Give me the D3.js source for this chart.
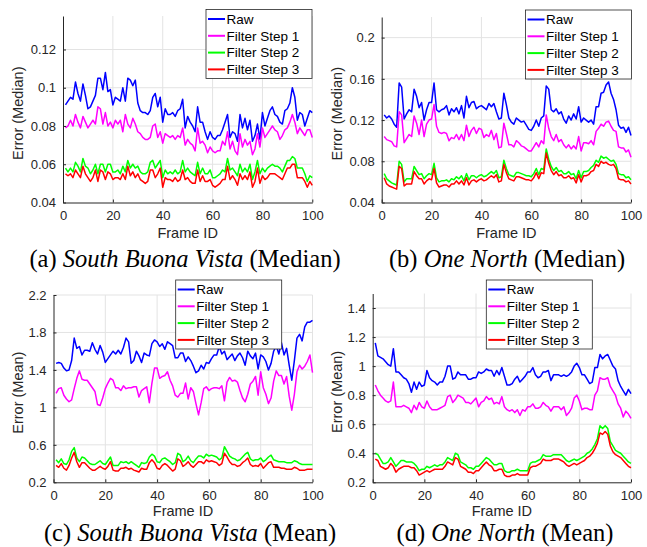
<html>
<head>
<title>Filter steps</title>
<script src="https://d3js.org/d3.v7.min.js"></script>
<style>
body { margin: 0; background: white; }
.tick text { font-family: "Liberation Sans", Arial, sans-serif; font-size: 13px; fill: #262626; }
.lbl { font-family: "Liberation Sans", Arial, sans-serif; font-size: 14.5px; fill: #262626; }
.leg { font-family: "Liberation Sans", Arial, sans-serif; font-size: 13.5px; fill: #000; }
.cap { font-family: "Liberation Serif", "Times New Roman", serif; font-size: 24.5px; fill: #000; }
</style>
</head>
<body>
<svg id="fig" width="647" height="547"></svg>
<script>
const frameIds = d3.range(1, 101);
const seriesNames = ["Raw", "Filter Step 1", "Filter Step 2", "Filter Step 3"];
const seriesColors = ["#0000ff", "#ff00ff", "#00ff00", "#ff0000"];
const xTicks = [0, 20, 40, 60, 80, 100];

// (a) South Buona Vista, median
const sbvMedRaw = [
0.091,0.093,0.095,0.094,0.103,0.097,0.093,0.102,0.096,0.089,
0.090,0.093,0.096,0.105,0.105,0.099,0.108,0.098,0.099,0.091,
0.095,0.094,0.093,0.100,0.093,0.105,0.104,0.101,0.104,0.092,
0.088,0.087,0.087,0.086,0.088,0.095,0.097,0.090,0.095,0.082,
0.089,0.086,0.086,0.087,0.085,0.088,0.089,0.094,0.079,0.085,
0.082,0.080,0.077,0.090,0.082,0.082,0.077,0.073,0.077,0.074,
0.073,0.075,0.075,0.078,0.082,0.086,0.074,0.077,0.076,0.072,
0.086,0.079,0.084,0.078,0.083,0.072,0.075,0.081,0.073,0.087,
0.080,0.084,0.088,0.090,0.086,0.085,0.082,0.081,0.088,0.089,
0.092,0.100,0.095,0.083,0.087,0.086,0.080,0.084,0.088,0.087];
const sbvMedF1 = [
0.079,0.080,0.083,0.080,0.086,0.082,0.079,0.085,0.082,0.079,
0.081,0.083,0.081,0.090,0.089,0.081,0.087,0.080,0.082,0.079,
0.083,0.081,0.083,0.077,0.086,0.081,0.079,0.084,0.081,0.077,
0.076,0.074,0.073,0.073,0.074,0.080,0.081,0.074,0.077,0.071,
0.076,0.075,0.074,0.075,0.073,0.075,0.074,0.079,0.070,0.073,
0.071,0.070,0.067,0.079,0.071,0.072,0.070,0.066,0.069,0.067,
0.066,0.067,0.067,0.072,0.070,0.077,0.068,0.072,0.067,0.065,
0.076,0.069,0.073,0.070,0.072,0.065,0.068,0.076,0.069,0.079,
0.074,0.076,0.078,0.080,0.078,0.077,0.073,0.075,0.078,0.079,
0.082,0.086,0.082,0.076,0.079,0.077,0.075,0.078,0.078,0.074];
const sbvMedF2 = [
0.058,0.056,0.058,0.056,0.061,0.059,0.056,0.063,0.059,0.058,
0.055,0.057,0.060,0.055,0.060,0.060,0.056,0.060,0.060,0.056,
0.056,0.057,0.055,0.059,0.056,0.062,0.058,0.060,0.058,0.059,
0.056,0.055,0.055,0.056,0.061,0.062,0.058,0.060,0.062,0.053,
0.057,0.055,0.056,0.055,0.057,0.055,0.056,0.062,0.056,0.058,
0.056,0.055,0.054,0.061,0.055,0.058,0.055,0.055,0.057,0.053,
0.053,0.054,0.055,0.057,0.056,0.063,0.057,0.058,0.056,0.054,
0.060,0.056,0.058,0.056,0.060,0.052,0.056,0.062,0.055,0.058,
0.056,0.058,0.059,0.060,0.059,0.059,0.058,0.056,0.059,0.062,
0.062,0.064,0.063,0.058,0.058,0.058,0.055,0.051,0.054,0.053];
const sbvMedF3 = [
0.055,0.054,0.055,0.053,0.057,0.055,0.053,0.059,0.055,0.053,
0.051,0.053,0.057,0.051,0.057,0.056,0.052,0.056,0.055,0.052,
0.053,0.053,0.052,0.055,0.052,0.059,0.054,0.056,0.053,0.055,
0.052,0.051,0.050,0.051,0.057,0.057,0.053,0.055,0.058,0.048,
0.053,0.052,0.052,0.051,0.053,0.051,0.052,0.057,0.052,0.053,
0.051,0.050,0.050,0.057,0.051,0.054,0.051,0.051,0.052,0.049,
0.048,0.049,0.050,0.052,0.052,0.059,0.052,0.054,0.052,0.049,
0.055,0.052,0.054,0.052,0.056,0.048,0.051,0.058,0.050,0.054,
0.052,0.053,0.055,0.055,0.055,0.054,0.053,0.052,0.055,0.058,
0.058,0.060,0.060,0.053,0.053,0.053,0.051,0.048,0.051,0.049];

// (b) One North, median
const onMedRaw = [
0.125,0.122,0.124,0.121,0.116,0.113,0.156,0.152,0.121,0.126,
0.130,0.128,0.150,0.143,0.132,0.137,0.120,0.130,0.137,0.137,
0.156,0.130,0.128,0.130,0.131,0.134,0.125,0.131,0.128,0.132,
0.126,0.134,0.122,0.143,0.132,0.137,0.138,0.131,0.133,0.134,
0.132,0.130,0.136,0.133,0.136,0.128,0.121,0.122,0.146,0.135,
0.122,0.118,0.116,0.122,0.120,0.118,0.119,0.115,0.111,0.110,
0.114,0.120,0.114,0.122,0.124,0.153,0.150,0.130,0.128,0.131,
0.126,0.128,0.121,0.117,0.124,0.120,0.126,0.121,0.133,0.118,
0.122,0.120,0.118,0.120,0.116,0.133,0.133,0.146,0.147,0.154,
0.157,0.146,0.140,0.130,0.115,0.112,0.113,0.108,0.113,0.105];
const onMedF1 = [
0.104,0.101,0.100,0.099,0.095,0.094,0.128,0.125,0.098,0.102,
0.106,0.104,0.124,0.117,0.106,0.120,0.104,0.116,0.120,0.121,
0.135,0.114,0.108,0.107,0.108,0.107,0.100,0.103,0.102,0.106,
0.101,0.106,0.100,0.115,0.104,0.110,0.113,0.107,0.112,0.111,
0.103,0.106,0.104,0.110,0.101,0.107,0.093,0.094,0.117,0.107,
0.096,0.096,0.094,0.100,0.098,0.095,0.094,0.092,0.090,0.090,
0.094,0.098,0.094,0.100,0.097,0.125,0.112,0.104,0.100,0.106,
0.099,0.101,0.096,0.093,0.096,0.092,0.095,0.092,0.104,0.090,
0.098,0.098,0.097,0.100,0.096,0.109,0.112,0.116,0.114,0.118,
0.119,0.114,0.110,0.109,0.094,0.093,0.093,0.089,0.091,0.084];
const onMedF2 = [
0.068,0.063,0.061,0.059,0.058,0.057,0.080,0.077,0.060,0.063,
0.063,0.063,0.075,0.071,0.067,0.068,0.063,0.066,0.068,0.067,
0.078,0.064,0.060,0.061,0.061,0.062,0.060,0.063,0.062,0.065,
0.063,0.066,0.061,0.068,0.062,0.066,0.066,0.064,0.066,0.067,
0.065,0.066,0.068,0.070,0.068,0.071,0.064,0.065,0.081,0.073,
0.067,0.066,0.065,0.069,0.069,0.068,0.067,0.066,0.066,0.065,
0.068,0.073,0.067,0.073,0.072,0.092,0.082,0.075,0.071,0.074,
0.070,0.071,0.068,0.068,0.070,0.067,0.068,0.063,0.071,0.064,
0.070,0.070,0.071,0.074,0.076,0.081,0.079,0.085,0.083,0.084,
0.082,0.080,0.081,0.077,0.068,0.067,0.067,0.064,0.065,0.062];
const onMedF3 = [
0.064,0.058,0.056,0.055,0.054,0.053,0.075,0.073,0.056,0.058,
0.058,0.058,0.070,0.066,0.063,0.063,0.058,0.061,0.063,0.062,
0.073,0.059,0.055,0.056,0.057,0.057,0.055,0.058,0.058,0.061,
0.058,0.061,0.057,0.064,0.057,0.061,0.062,0.060,0.062,0.063,
0.061,0.062,0.064,0.066,0.064,0.067,0.060,0.061,0.077,0.069,
0.063,0.062,0.061,0.065,0.065,0.064,0.063,0.062,0.062,0.061,
0.064,0.069,0.063,0.069,0.068,0.088,0.078,0.071,0.067,0.070,
0.066,0.067,0.064,0.064,0.066,0.063,0.064,0.059,0.067,0.060,
0.066,0.066,0.067,0.070,0.071,0.077,0.075,0.080,0.078,0.079,
0.077,0.076,0.077,0.073,0.063,0.062,0.062,0.060,0.061,0.058];

// (c) South Buona Vista, mean
const sbvMeanRaw = [
1.47,1.48,1.47,1.42,1.39,1.40,1.50,1.74,1.63,1.65,
1.56,1.61,1.61,1.60,1.69,1.62,1.57,1.66,1.59,1.48,
1.52,1.56,1.60,1.57,1.61,1.57,1.64,1.74,1.70,1.47,
1.50,1.60,1.55,1.48,1.58,1.56,1.55,1.68,1.72,1.70,
1.65,1.68,1.62,1.70,1.68,1.66,1.53,1.53,1.58,1.58,
1.49,1.54,1.50,1.44,1.37,1.39,1.45,1.41,1.48,1.47,
1.52,1.56,1.56,1.65,1.57,1.60,1.51,1.54,1.57,1.50,
1.55,1.58,1.53,1.45,1.60,1.55,1.52,1.58,1.41,1.56,
1.54,1.49,1.40,1.47,1.60,1.66,1.57,1.69,1.56,1.63,
1.45,1.29,1.50,1.74,1.78,1.71,1.86,1.91,1.91,1.93];
const sbvMeanF1 = [
1.15,1.20,1.21,1.13,1.09,1.06,1.08,1.20,1.31,1.39,
1.30,1.29,1.29,1.25,1.21,1.17,1.03,1.02,1.10,1.20,
1.26,1.31,1.29,1.21,1.21,1.18,1.23,1.20,1.21,1.21,
1.22,1.22,1.11,1.18,1.20,1.22,1.05,1.26,1.42,1.42,
1.31,1.33,1.34,1.38,1.29,1.23,1.13,1.11,1.15,1.15,
1.26,1.09,1.21,1.17,1.04,0.92,1.05,1.20,1.22,1.18,
1.20,1.21,1.21,1.20,1.23,1.07,1.27,1.32,1.28,1.29,
1.27,1.18,1.10,1.06,1.14,1.25,1.28,1.33,1.13,1.38,
1.21,1.14,1.04,1.10,1.28,1.39,1.34,1.34,1.25,1.33,
1.12,0.97,1.14,1.38,1.45,1.41,1.44,1.49,1.56,1.37];
const sbvMeanF2 = [
0.44,0.41,0.45,0.40,0.39,0.44,0.53,0.57,0.46,0.42,
0.47,0.46,0.43,0.40,0.39,0.39,0.41,0.43,0.40,0.39,
0.43,0.47,0.38,0.38,0.38,0.42,0.41,0.42,0.40,0.42,
0.40,0.38,0.36,0.41,0.40,0.41,0.47,0.50,0.48,0.42,
0.41,0.45,0.46,0.44,0.42,0.39,0.41,0.51,0.49,0.42,
0.44,0.48,0.43,0.41,0.45,0.48,0.48,0.46,0.50,0.48,
0.49,0.48,0.47,0.44,0.46,0.58,0.53,0.48,0.46,0.45,
0.43,0.44,0.47,0.50,0.52,0.45,0.43,0.44,0.44,0.46,
0.42,0.44,0.47,0.49,0.44,0.43,0.42,0.42,0.42,0.41,
0.41,0.41,0.43,0.42,0.40,0.39,0.39,0.39,0.39,0.39];
const sbvMeanF3 = [
0.38,0.36,0.40,0.35,0.33,0.38,0.46,0.52,0.42,0.36,
0.41,0.41,0.38,0.35,0.33,0.33,0.35,0.37,0.35,0.34,
0.37,0.42,0.33,0.32,0.32,0.35,0.35,0.36,0.34,0.35,
0.33,0.32,0.31,0.35,0.34,0.34,0.41,0.44,0.41,0.35,
0.34,0.38,0.40,0.38,0.35,0.32,0.34,0.45,0.43,0.37,
0.39,0.42,0.38,0.36,0.39,0.42,0.42,0.40,0.44,0.42,
0.43,0.42,0.41,0.38,0.40,0.51,0.47,0.42,0.39,0.39,
0.37,0.38,0.41,0.43,0.46,0.39,0.37,0.38,0.37,0.40,
0.35,0.38,0.41,0.42,0.36,0.36,0.36,0.35,0.35,0.34,
0.34,0.34,0.36,0.35,0.33,0.33,0.33,0.34,0.34,0.34];

// (d) One North, mean
const onMeanRaw = [
1.16,1.07,1.06,1.05,1.03,1.01,1.00,1.12,0.96,0.96,
0.94,0.92,0.91,0.88,0.82,0.89,0.84,0.89,0.86,0.87,
0.97,0.92,0.90,0.89,0.87,0.89,0.89,0.93,1.00,1.00,
0.91,0.92,0.96,0.94,0.94,0.94,0.91,0.91,0.92,0.92,
0.96,0.95,0.96,0.98,0.97,0.97,0.93,0.97,0.94,0.99,
0.93,0.87,0.87,0.88,0.91,0.93,0.89,0.91,0.93,0.96,
0.96,0.99,0.94,0.92,0.93,0.96,0.96,0.97,0.90,0.94,
0.94,0.94,0.93,0.94,0.93,0.94,0.96,1.00,1.02,0.99,
0.94,0.94,0.91,0.88,0.89,0.99,0.99,1.08,1.05,1.07,
1.08,1.04,1.00,0.98,0.90,0.86,0.83,0.80,0.84,0.81];
const onMeanF1 = [
0.87,0.83,0.80,0.78,0.76,0.75,0.76,0.89,0.72,0.72,
0.72,0.73,0.72,0.71,0.68,0.73,0.70,0.75,0.72,0.71,
0.76,0.72,0.70,0.70,0.70,0.71,0.72,0.73,0.79,0.80,
0.75,0.77,0.80,0.79,0.78,0.75,0.75,0.74,0.76,0.78,
0.72,0.75,0.76,0.79,0.77,0.78,0.74,0.75,0.74,0.79,
0.72,0.70,0.69,0.70,0.68,0.70,0.66,0.70,0.69,0.72,
0.72,0.74,0.71,0.71,0.72,0.75,0.73,0.72,0.69,0.72,
0.72,0.72,0.70,0.72,0.66,0.68,0.71,0.78,0.80,0.76,
0.70,0.71,0.71,0.70,0.70,0.80,0.83,0.92,0.91,0.91,
0.92,0.86,0.83,0.80,0.74,0.71,0.65,0.69,0.67,0.64];
const onMeanF2 = [
0.40,0.39,0.36,0.33,0.33,0.34,0.37,0.34,0.31,0.33,
0.35,0.35,0.34,0.34,0.34,0.33,0.31,0.28,0.29,0.29,
0.31,0.30,0.31,0.32,0.31,0.32,0.32,0.34,0.37,0.36,
0.35,0.40,0.39,0.34,0.33,0.32,0.30,0.30,0.29,0.31,
0.31,0.33,0.35,0.37,0.36,0.34,0.32,0.32,0.33,0.33,
0.28,0.27,0.27,0.28,0.28,0.29,0.28,0.28,0.28,0.28,
0.33,0.34,0.34,0.35,0.36,0.39,0.38,0.38,0.38,0.39,
0.39,0.39,0.39,0.37,0.35,0.34,0.35,0.36,0.35,0.36,
0.37,0.38,0.40,0.41,0.43,0.46,0.50,0.59,0.57,0.59,
0.57,0.48,0.45,0.42,0.41,0.40,0.38,0.36,0.34,0.33];
const onMeanF3 = [
0.36,0.35,0.31,0.30,0.29,0.30,0.33,0.31,0.27,0.29,
0.30,0.31,0.31,0.31,0.30,0.30,0.28,0.25,0.26,0.27,
0.28,0.27,0.28,0.29,0.29,0.29,0.29,0.31,0.34,0.33,
0.32,0.37,0.36,0.31,0.30,0.29,0.27,0.27,0.26,0.28,
0.28,0.30,0.32,0.34,0.32,0.31,0.28,0.28,0.29,0.29,
0.25,0.24,0.24,0.25,0.25,0.26,0.25,0.25,0.25,0.25,
0.30,0.31,0.31,0.32,0.33,0.36,0.35,0.35,0.35,0.36,
0.36,0.36,0.35,0.34,0.32,0.31,0.32,0.33,0.32,0.33,
0.34,0.35,0.37,0.38,0.40,0.43,0.47,0.54,0.53,0.55,
0.53,0.45,0.41,0.39,0.38,0.37,0.35,0.33,0.31,0.30];

const sbvMedTicks = [0.04, 0.06, 0.08, 0.1, 0.12];
const onMedTicks = [0.04, 0.08, 0.12, 0.16, 0.2];
const sbvMeanTicks = [0.2, 0.6, 1, 1.4, 1.8, 2.2];
const onMeanTicks = [0.2, 0.4, 0.6, 0.8, 1, 1.2, 1.4];

// layout of the four panels
const panels = [
  { series: [sbvMedRaw, sbvMedF1, sbvMedF2, sbvMedF3], ticks: sbvMedTicks, ydom: [0.04, 0.1375],
    x0: 63, x1: 312.3, top: 16, bottom: 202.5, ylabelX: 18, ylabel: "Error (Median)", xlabY: 35.5,
    leg: [206, 9.5], cap: ["(a) ", "South Buona Vista", " (Median)"], capX: 185, capY: 266.5 },
  { series: [onMedRaw, onMedF1, onMedF2, onMedF3], ticks: onMedTicks, ydom: [0.04, 0.22],
    x0: 381.7, x1: 631, top: 17, bottom: 202.5, ylabelX: 337, ylabel: "Error (Median)", xlabY: 35.5,
    leg: [525.5, 10], cap: ["(b) ", "One North", " (Median)"], capX: 507, capY: 266.5 },
  { series: [sbvMeanRaw, sbvMeanF1, sbvMeanF2, sbvMeanF3], ticks: sbvMeanTicks, ydom: [0.2, 2.2],
    x0: 53.5, x1: 312.5, top: 295, bottom: 482.3, ylabelX: 18, ylabel: "Error (Mean)", xlabY: 33.3,
    leg: [175.7, 280], cap: ["(c) ", "South Buona Vista", " (Mean)"], capX: 190, capY: 541 },
  { series: [onMeanRaw, onMeanF1, onMeanF2, onMeanF3], ticks: onMeanTicks, ydom: [0.2, 1.5],
    x0: 372.7, x1: 631, top: 293.5, bottom: 482.3, ylabelX: 337, ylabel: "Error (Mean)", xlabY: 33.3,
    leg: [486.3, 280], cap: ["(d) ", "One North", " (Mean)"], capX: 505, capY: 541 }
];

const svg = d3.select("#fig");
svg.append("rect").attr("width", 647).attr("height", 547).attr("fill", "white");

panels.forEach(function(p) {
  var x = d3.scaleLinear().domain([0, 100]).range([p.x0, p.x1]);
  var y = d3.scaleLinear().domain(p.ydom).range([p.bottom, p.top]);
  var g = svg.append("g");

  // grid
  g.selectAll(".vg").data(xTicks.slice(1)).enter().append("line")
    .attr("x1", d => x(d)).attr("x2", d => x(d))
    .attr("y1", p.top).attr("y2", p.bottom)
    .attr("stroke", "#e3e3e3").attr("stroke-width", 1);
  g.selectAll(".hg").data(p.ticks.slice(1)).enter().append("line")
    .attr("x1", p.x0).attr("x2", p.x1)
    .attr("y1", d => y(d)).attr("y2", d => y(d))
    .attr("stroke", "#e3e3e3").attr("stroke-width", 1);

  // data lines
  var line = d3.line().x((d, i) => x(frameIds[i])).y(d => y(d));
  p.series.forEach(function(s, k) {
    g.append("path").datum(s)
      .attr("d", line)
      .attr("fill", "none")
      .attr("stroke", seriesColors[k])
      .attr("stroke-width", 1.5)
      .attr("stroke-linejoin", "round");
  });

  // axes
  var ax = g.append("g").attr("transform", "translate(0," + p.bottom + ")")
    .call(d3.axisBottom(x).tickValues(xTicks).tickFormat(d3.format("d")).tickSizeInner(-3).tickSizeOuter(0).tickPadding(8.5));
  var ay = g.append("g").attr("transform", "translate(" + p.x0 + ",0)")
    .call(d3.axisLeft(y).tickValues(p.ticks).tickFormat(d3.format("~g")).tickSizeInner(-3).tickSizeOuter(0).tickPadding(7));
  [ax, ay].forEach(function(a) {
    a.select(".domain").attr("stroke", "#262626").attr("stroke-width", 1);
    a.selectAll(".tick line").attr("stroke", "#262626");
  });

  g.append("text").attr("class", "lbl")
    .attr("x", (p.x0 + p.x1) / 2).attr("y", p.bottom + p.xlabY)
    .attr("text-anchor", "middle").text("Frame ID");
  g.append("text").attr("class", "lbl")
    .attr("transform", "translate(" + p.ylabelX + "," + ((p.top + p.bottom) / 2 + 4) + ") rotate(-90)")
    .attr("text-anchor", "middle").attr("dy", "0.35em").text(p.ylabel);

  // legend
  var lg = g.append("g").attr("transform", "translate(" + p.leg[0] + "," + p.leg[1] + ")");
  lg.append("rect").attr("width", 106).attr("height", 69)
    .attr("fill", "white").attr("stroke", "#262626").attr("stroke-width", 0.8);
  seriesNames.forEach(function(n, k) {
    var cy = 9.5 + k * 16.8;
    lg.append("line").attr("x1", 2).attr("x2", 19).attr("y1", cy).attr("y2", cy)
      .attr("stroke", seriesColors[k]).attr("stroke-width", 2);
    lg.append("text").attr("class", "leg").attr("x", 20.5).attr("y", cy).attr("dy", "0.36em").text(n);
  });

  // caption
  var cap = svg.append("text").attr("class", "cap")
    .attr("x", p.capX).attr("y", p.capY).attr("text-anchor", "middle");
  cap.append("tspan").text(p.cap[0]);
  cap.append("tspan").attr("font-style", "italic").text(p.cap[1]);
  cap.append("tspan").text(p.cap[2]);
});
</script>
</body>
</html>
